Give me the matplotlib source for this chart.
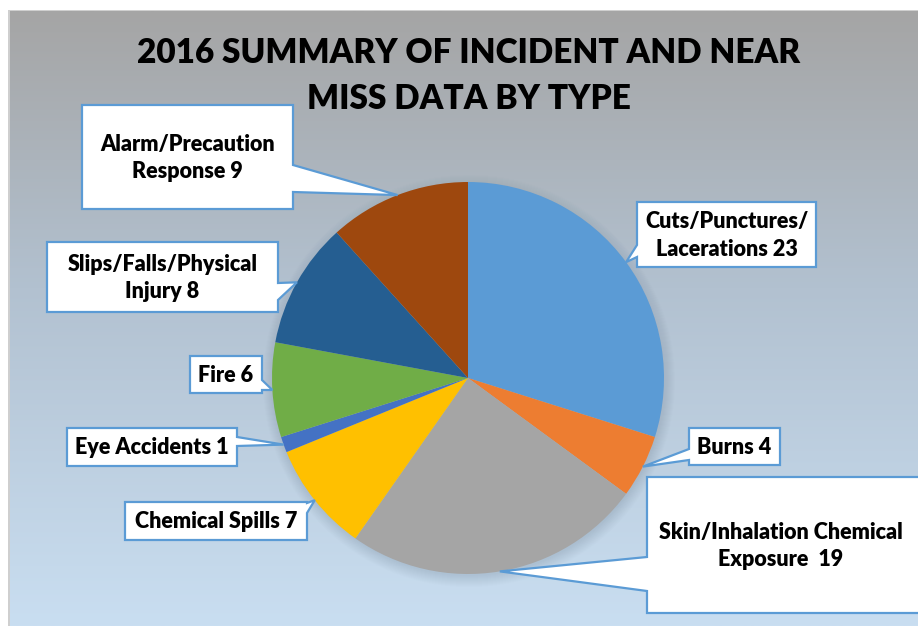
import numpy as np
import matplotlib
matplotlib.use("Agg")
import matplotlib.pyplot as plt
from matplotlib.patches import Polygon, Rectangle, Circle
from matplotlib.colors import LinearSegmentedColormap

# ---- data ----
categories = ["Cuts/Punctures/\nLacerations", "Burns", "Skin/Inhalation Chemical\nExposure ",
              "Chemical Spills", "Eye Accidents", "Fire", "Slips/Falls/Physical\nInjury",
              "Alarm/Precaution\nResponse"]
values = [23, 4, 19, 7, 1, 6, 8, 9]
colors = ["#5B9BD5", "#ED7D31", "#A5A5A5", "#FFC000", "#4472C4", "#70AD47", "#255E91", "#9E480E"]
title = "2016 SUMMARY OF INCIDENT AND NEAR\nMISS DATA BY TYPE"

# ---- layout (pixel coordinates, y downward) ----
W, H = 918, 626
CX, CY, R = 468, 378, 196
# callout boxes: (x0, y0, x1, y1, side, base_a, base_b, text_x)
boxes = [
    (637, 202, 816, 267, "left", 245, 257, None),
    (689, 428, 780, 465, "left", 449, 460, None),
    (647, 477, 935, 613, "left", 557, 591, 781),
    (125, 502, 307, 540, "right", 503, 513, None),
    (67, 428, 237, 466, "right", 437, 446, None),
    (190, 356, 262, 393, "right", 380, 390, None),
    (47, 242, 278, 312, "right", 283, 300, None),
    (82, 105, 293, 209, "right", 165, 192, None),
]

FONT = ["Lato", "DejaVu Sans"]

fig = plt.figure(figsize=(W / 100, H / 100), dpi=100)
fig.patch.set_facecolor("white")
ax = fig.add_axes([0, 0, 1, 1])
ax.set_xlim(0, W)
ax.set_ylim(0, H)
ax.axis("off")

def fy(y):
    return H - y

# background gradient
cmap = LinearSegmentedColormap.from_list("bg", [(0, "#A5A5A5"), (0.45, "#B2C1D0"), (1, "#C9DEF1")])
grad = np.linspace(0, 1, 256).reshape(-1, 1)
ax.imshow(grad, cmap=cmap, extent=(9, W, fy(626), fy(11)), aspect="auto", origin="upper", zorder=0)
ax.add_patch(Rectangle((8, 0), 1.5, fy(10), color="#CFCFCF", zorder=1, lw=0))
ax.add_patch(Rectangle((8, fy(11)), W, 1.5, color="#CFCFCF", zorder=1, lw=0))

# pie shadow
for i in range(12):
    ax.add_patch(Circle((CX + 1, fy(CY + 3)), R + 10 - i, color="#7F8FA0", alpha=0.025, lw=0, zorder=1))

ax.pie(values, colors=colors, startangle=90, counterclock=False,
       center=(CX, fy(CY)), radius=R, frame=True,
       wedgeprops=dict(linewidth=0, zorder=2))
ax.set_xlim(0, W)
ax.set_ylim(0, H)
ax.set_aspect("equal")
ax.axis("off")

# title
ax.text(469, fy(76), title, ha="center", va="center", fontsize=24, fontweight="heavy",
        family=FONT, color="#000000", linespacing=1.55, zorder=5)

# callouts
total = sum(values)
cum = 0
for cat, val, b in zip(categories, values, boxes):
    mid = (cum + val / 2) / total * 2 * np.pi
    cum += val
    tx = CX + R * np.sin(mid)
    ty = CY - R * np.cos(mid)
    x0, y0, x1, y1, side, ba, bb, txx = b
    if side == "right":
        pts = [(x0, y0), (x1, y0), (x1, ba), (tx, ty), (x1, bb), (x1, y1), (x0, y1)]
    else:
        pts = [(x0, y0), (x1, y0), (x1, y1), (x0, y1), (x0, bb), (tx, ty), (x0, ba)]
    pts = [(px, fy(py)) for px, py in pts]
    ax.add_patch(Polygon(pts, closed=True, facecolor="white", edgecolor="#5B9BD5",
                         lw=1.6, zorder=4, joinstyle="miter"))
    xc = txx if txx is not None else (x0 + x1) / 2
    ax.text(xc, fy((y0 + y1) / 2 + 1), f"{cat} {val}",
            ha="center", va="center", fontsize=15.5, fontweight="heavy", family=FONT,
            color="#000000", linespacing=1.4, zorder=5)

fig.savefig("out.png", dpi=100, facecolor="white")
